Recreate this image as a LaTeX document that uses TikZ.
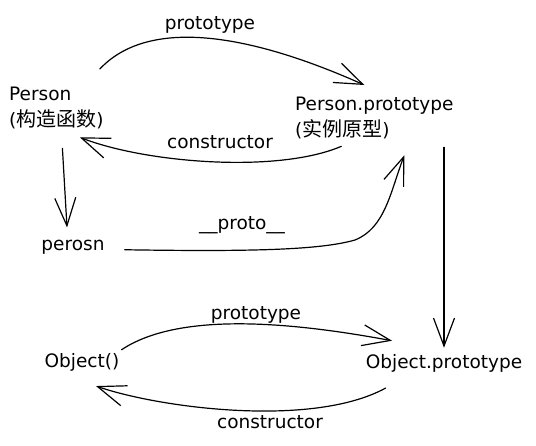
\documentclass[tikz,border=0pt]{standalone}
\usepackage{fontspec}
\setmainfont{DejaVu Sans}
\newfontfamily\cjkfont{Noto Sans CJK SC}
\newcommand{\zh}[1]{{\cjkfont\fontsize{20}{26}\selectfont #1}}
\usetikzlibrary{arrows.meta}

\begin{document}
\begin{tikzpicture}[
  x=1pt, y=-1pt,
  font=\fontsize{18.5}{26}\selectfont,
  every node/.style={inner sep=1pt},
  obj/.style={align=left, anchor=north west},
  txt/.style={anchor=base},
  arr/.style={-{Straight Barb[length=28pt, width=21pt]}, line width=1.2pt, line cap=round, line join=round}
]
\useasboundingbox (0,0) rectangle (536,445);

\node[obj] (person) at (8,86) {Person\\(\zh{构造函数})};
\node[obj] (pproto) at (294,96) {Person.prototype\\(\zh{实例原型})};
\node[txt] (perosn) at (73,250) {perosn};
\node[txt] (object) at (82,367) {Object()};
\node[txt] (oproto) at (444,368) {Object.prototype};

\node[txt] (protoA) at (210,29) {prototype};
\node[txt] (ctorA) at (220,148) {constructor};
\node[txt] (dunder) at (242,229) {\_\_proto\_\_};
\node[txt] (protoB) at (256,319) {prototype};
\node[txt] (ctorB) at (270,428) {constructor};

\draw[arr] ([shift={(-5,-17)}]person.north east) .. controls +(47,-50) and +(-121,-54) .. ([shift={(-10,-11)}]pproto.north);
\draw[arr] ([shift={(-33,6)}]pproto.south) .. controls +(-63,27) and +(67,26) .. ([shift={(-25,7)}]person.south east);
\draw[arr] ([shift={(6,18)}]person.south) -- ([shift={(-6,-11)}]perosn.north);
\draw[arr] ([shift={(19,3)}]perosn.east) .. controls +(127,2) and +(-35,10) .. (355,240)
  .. controls +(30,-12) and +(-14,37) .. ([shift={(30,15)}]pproto.south);
\draw[arr] (pproto.south -| oproto.north) ++(0,7) -- ([shift={(0,-5)}]oproto.north);
\draw[arr] ([shift={(1,-2)}]object.north east) .. controls +(57,-38) and +(-102,-19) .. ([shift={(-52,-12)}]oproto.north);
\draw[arr] ([shift={(21,15)}]oproto.south west) .. controls +(-73,40) and +(64,22) .. ([shift={(14,14)}]object.south);
\end{tikzpicture}
\end{document}
